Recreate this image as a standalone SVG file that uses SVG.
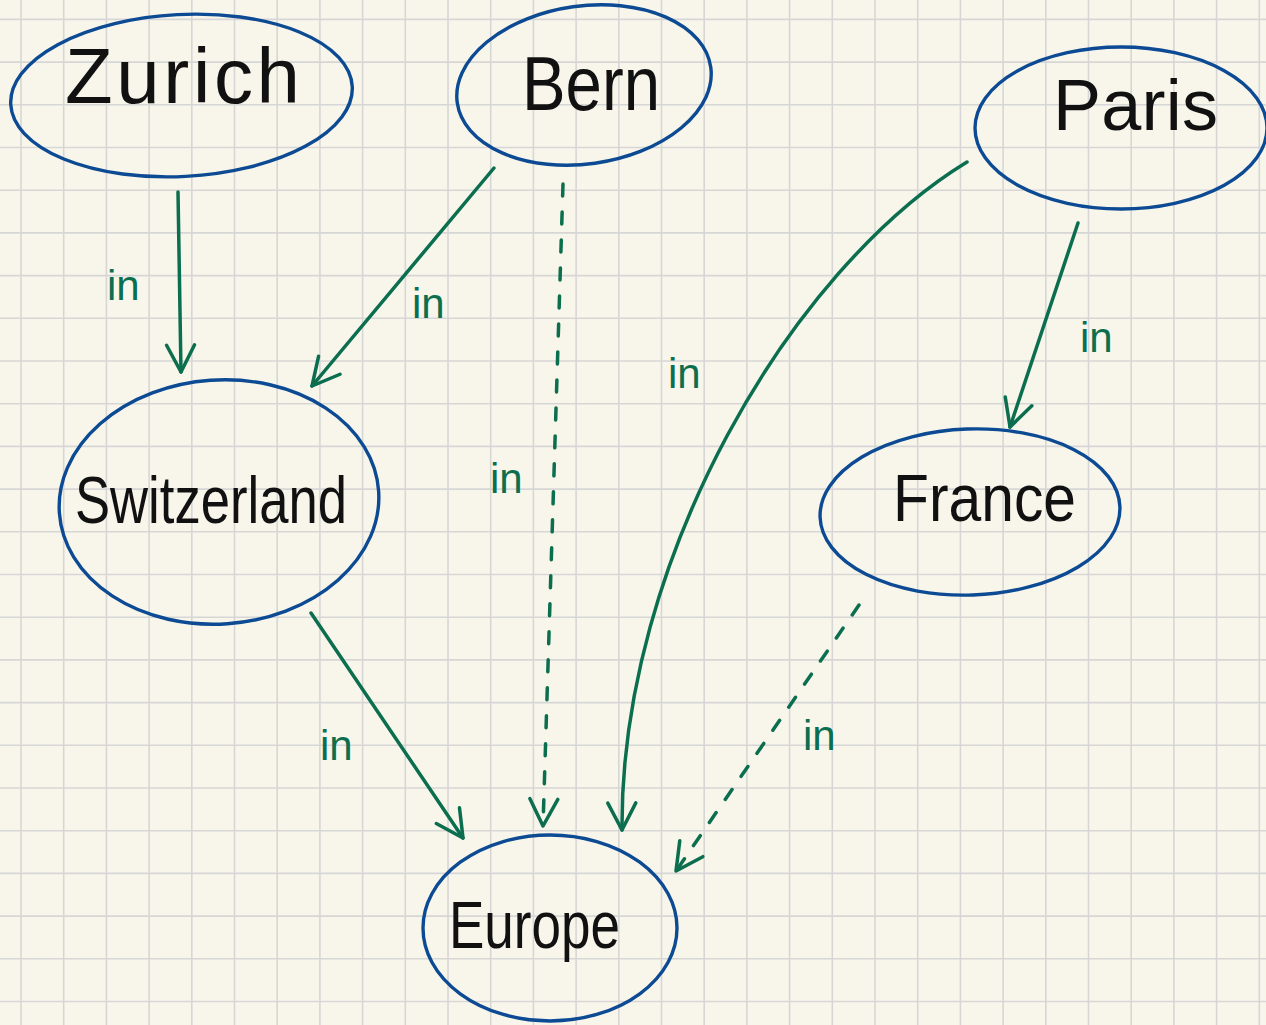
<svg xmlns="http://www.w3.org/2000/svg" width="1266" height="1025" viewBox="0 0 1266 1025">
<style>
.node ellipse{fill:none;stroke:#0c4a93;stroke-width:3.4}
.lbl{font-family:"Liberation Sans","Noto Sans",sans-serif;fill:#111}
.in{font-family:"Liberation Sans","Noto Sans",sans-serif;fill:#0b6e4f;font-size:42px}
.edge{fill:none;stroke:#0b6e4f;stroke-width:3.5;stroke-linecap:round;marker-end:url(#ah)}
.dash{stroke-dasharray:12 16}
</style>
<defs>
<marker id="ah" markerUnits="userSpaceOnUse" markerWidth="60" markerHeight="60" viewBox="-30 -30 60 60" refX="0" refY="0" orient="auto" overflow="visible">
<path d="M-27,-14 L0,0 L-27,14" fill="none" stroke="#0b6e4f" stroke-width="3.5" stroke-linecap="round" stroke-linejoin="round"/>
</marker>
</defs>
<rect width="1266" height="1025" fill="#f8f6eb"/>
<path id="grid" fill="none" stroke="#d6d6d6" stroke-width="1.6" d="M21,0V1025M63.7,0V1025M106.4,0V1025M149.1,0V1025M191.8,0V1025M234.5,0V1025M277.2,0V1025M319.9,0V1025M362.6,0V1025M405.3,0V1025M448,0V1025M490.7,0V1025M533.4,0V1025M576.1,0V1025M618.8,0V1025M661.5,0V1025M704.2,0V1025M746.9,0V1025M789.6,0V1025M832.3,0V1025M875,0V1025M917.7,0V1025M960.4,0V1025M1003.1,0V1025M1045.8,0V1025M1088.5,0V1025M1131.2,0V1025M1173.9,0V1025M1216.6,0V1025M1259.3,0V1025M0,19.4H1266M0,62.1H1266M0,104.8H1266M0,147.5H1266M0,190.2H1266M0,232.9H1266M0,275.6H1266M0,318.3H1266M0,361H1266M0,403.7H1266M0,446.4H1266M0,489.1H1266M0,531.8H1266M0,574.5H1266M0,617.2H1266M0,659.9H1266M0,702.6H1266M0,745.3H1266M0,788H1266M0,830.7H1266M0,873.4H1266M0,916.1H1266M0,958.8H1266M0,1001.5H1266"/>
<g id="connectors">
<path class="edge" d="M178,192 L181,372"/>
<path class="edge" d="M494,168 L312,386"/>
<path class="edge dash" d="M563,184 L543,826"/>
<path class="edge" d="M967,162 C790,270 620,560 622,830"/>
<path class="edge" d="M1078,223 L1010,427"/>
<path class="edge" d="M311,613 L463,838"/>
<path class="edge dash" d="M859,605 L676,871"/>
<text class="in" x="107" y="300">in</text>
<text class="in" x="412" y="318">in</text>
<text class="in" x="490" y="493">in</text>
<text class="in" x="668" y="388">in</text>
<text class="in" x="1080" y="352">in</text>
<text class="in" x="320" y="760">in</text>
<text class="in" x="803" y="750">in</text>
</g>
<g id="zurich" class="node">
<ellipse cx="181.5" cy="95.5" rx="171" ry="81" transform="rotate(-3 181.5 95.5)"/>
<text class="lbl" x="65" y="103" font-size="78" textLength="235">Zurich</text>
</g>
<g id="bern" class="node">
<ellipse cx="584" cy="85" rx="128" ry="79" transform="rotate(-8 584 85)"/>
<text class="lbl" x="522" y="110" font-size="76" textLength="138" lengthAdjust="spacingAndGlyphs">Bern</text>
</g>
<g id="paris" class="node">
<ellipse cx="1121" cy="128" rx="146" ry="81"/>
<text class="lbl" x="1053" y="130" font-size="72" textLength="165">Paris</text>
</g>
<g id="switzerland" class="node">
<ellipse cx="219" cy="502" rx="160" ry="122" transform="rotate(-4 219 502)"/>
<text class="lbl" x="75" y="523" font-size="66" textLength="272" lengthAdjust="spacingAndGlyphs">Switzerland</text>
</g>
<g id="france" class="node">
<ellipse cx="970" cy="512" rx="150" ry="83" transform="rotate(-2 970 512)"/>
<text class="lbl" x="893" y="521" font-size="66" textLength="183" lengthAdjust="spacingAndGlyphs">France</text>
</g>
<g id="europe" class="node">
<ellipse cx="550" cy="928" rx="127" ry="93"/>
<text class="lbl" x="449" y="948" font-size="66" textLength="171" lengthAdjust="spacingAndGlyphs">Europe</text>
</g>
</svg>
